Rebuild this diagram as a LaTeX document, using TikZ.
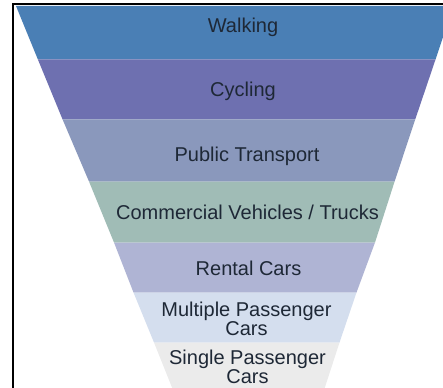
\documentclass[tikz,border=0pt]{standalone}
\usepackage{fontspec}
\setmainfont{Liberation Sans}
\definecolor{cWalk}{HTML}{4A7FB5}
\definecolor{cCyc}{HTML}{6E70B0}
\definecolor{cPub}{HTML}{8A98BC}
\definecolor{cCom}{HTML}{A0BCB6}
\definecolor{cRen}{HTML}{AFB4D4}
\definecolor{cMul}{HTML}{D4DEEE}
\definecolor{cSin}{HTML}{EBEBEB}
\definecolor{cTxt}{HTML}{1E2836}
\begin{document}
\begin{tikzpicture}[x=1pt,y=-1pt,
  band/.style={draw=none},
  lbl/.style={anchor=base,inner sep=0pt,text=cTxt,font=\fontsize{20}{19}\selectfont,align=center}]
\useasboundingbox (0,0) rectangle (443,387);
\clip (0,0) rectangle (443,387);
\fill[white] (0,0) rectangle (443,387);
% funnel bands
\fill[band,cWalk] (16,6) -- (453.5,6) -- (435.5,59.5) -- (37.9,59.5) -- cycle;
\fill[band,cCyc] (37.9,59.5) -- (435.5,59.5) -- (415.2,119.5) -- (62.6,119.5) -- cycle;
\fill[band,cPub] (62.6,119.5) -- (415.2,119.5) -- (394.6,181.5) -- (89,181.5) -- cycle;
\fill[band,cCom] (89,181.5) -- (394.6,181.5) -- (375,242.5) -- (114,242.5) -- cycle;
\fill[band,cRen] (114,242.5) -- (375,242.5) -- (356.5,292.5) -- (133.5,292.5) -- cycle;
\fill[band,cMul] (133.5,292.5) -- (356.5,292.5) -- (339.5,342.5) -- (154,342.5) -- cycle;
\fill[band,cSin] (154,342.5) -- (339.5,342.5) -- (322.4,395) -- (175,395) -- cycle;
% frame (only left and top edges fall inside the picture)
\draw[black,line width=2pt] (13,400) -- (13,4) -- (470,4);
% labels
\node[lbl] (walk) at (243,33) {Walking};
\node[lbl] (cyc) at (243,97) {Cycling};
\node[lbl] (pub) at (247,161) {Public Transport};
\node[lbl] (com) at (247.5,219) {Commercial Vehicles / Trucks};
\node[lbl] (ren) at (248.5,275) {Rental Cars};
\node[lbl] (mul) at (246.5,335) {Multiple Passenger\\Cars};
\node[lbl] (sin) at (247.5,383) {Single Passenger\\Cars};
\end{tikzpicture}
\end{document}
